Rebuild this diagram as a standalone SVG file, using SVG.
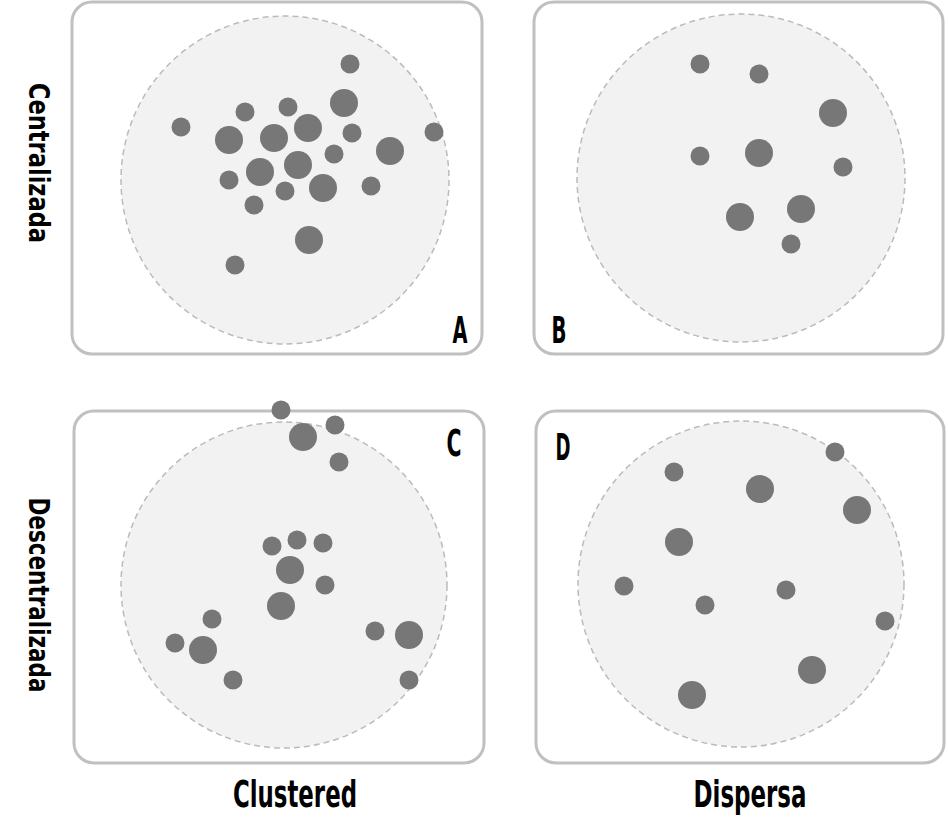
<svg xmlns="http://www.w3.org/2000/svg" width="948" height="838" viewBox="0 0 948 838">
<style>
.panel{fill:#fff;stroke:#c0c0c0;stroke-width:3}
.zone{fill:#f2f2f2;stroke:#bbb;stroke-width:1.5;stroke-dasharray:6 4}
.s{fill:#777}
.lbl{font-family:"DejaVu Sans Condensed","DejaVu Sans",sans-serif;font-weight:bold;fill:#000}
</style>
<rect width="948" height="838" fill="#fff"/>
<g id="panelA">
<rect class="panel" x="72" y="2" width="410" height="352" rx="20"/>
<circle class="zone" cx="285" cy="180" r="164"/>
<g class="s">
<circle cx="350" cy="64" r="9.5"/><circle cx="344" cy="103" r="14"/><circle cx="245" cy="112" r="9.5"/>
<circle cx="288" cy="107" r="9.5"/><circle cx="181" cy="127" r="9.5"/><circle cx="229" cy="140" r="14"/>
<circle cx="274" cy="138" r="14"/><circle cx="308" cy="128" r="14"/><circle cx="352" cy="133" r="9.5"/>
<circle cx="434" cy="132" r="9.5"/><circle cx="390" cy="151" r="14"/><circle cx="334" cy="154" r="9.5"/>
<circle cx="260" cy="172" r="14"/><circle cx="298" cy="165" r="14"/><circle cx="229" cy="180" r="9.5"/>
<circle cx="285" cy="191" r="9.5"/><circle cx="323" cy="188" r="14"/><circle cx="371" cy="186" r="9.5"/>
<circle cx="254" cy="205" r="9.5"/><circle cx="309" cy="240" r="14"/><circle cx="235" cy="265" r="9.5"/>
</g>
<text class="lbl" x="460" y="343" font-size="37" text-anchor="middle" textLength="15" lengthAdjust="spacingAndGlyphs">A</text>
</g>
<g id="panelB">
<rect class="panel" x="534" y="2" width="409" height="352" rx="20"/>
<circle class="zone" cx="741" cy="178" r="164"/>
<g class="s">
<circle cx="700" cy="64" r="9.5"/><circle cx="759" cy="74" r="9.5"/><circle cx="833" cy="113" r="14"/>
<circle cx="700" cy="156" r="9.5"/><circle cx="759" cy="153" r="14"/><circle cx="843" cy="167" r="9.5"/>
<circle cx="740" cy="217" r="14"/><circle cx="801" cy="209" r="14"/><circle cx="791" cy="244" r="9.5"/>
</g>
<text class="lbl" x="559" y="343" font-size="37" text-anchor="middle" textLength="15" lengthAdjust="spacingAndGlyphs">B</text>
</g>
<g id="panelC">
<rect class="panel" x="74" y="411" width="410" height="352" rx="20"/>
<circle class="zone" cx="284" cy="585" r="163"/>
<g class="s">
<circle cx="281" cy="410" r="9.5"/><circle cx="303" cy="437" r="14"/><circle cx="335" cy="425" r="9.5"/>
<circle cx="339" cy="462" r="9.5"/><circle cx="272" cy="546" r="9.5"/><circle cx="297" cy="540" r="9.5"/>
<circle cx="323" cy="543" r="9.5"/><circle cx="290" cy="570" r="14"/><circle cx="325" cy="585" r="9.5"/>
<circle cx="281" cy="606" r="14"/><circle cx="212" cy="619" r="9.5"/><circle cx="175" cy="643" r="9.5"/>
<circle cx="203" cy="650" r="14"/><circle cx="233" cy="680" r="9.5"/><circle cx="375" cy="631" r="9.5"/>
<circle cx="409" cy="635" r="14"/><circle cx="409" cy="680" r="9.5"/>
</g>
<text class="lbl" x="454" y="456" font-size="37" text-anchor="middle" textLength="15" lengthAdjust="spacingAndGlyphs">C</text>
</g>
<g id="panelD">
<rect class="panel" x="536" y="411" width="408" height="352" rx="20"/>
<circle class="zone" cx="741" cy="584" r="163"/>
<g class="s">
<circle cx="835" cy="452" r="9.5"/><circle cx="674" cy="472" r="9.5"/><circle cx="760" cy="489" r="14"/>
<circle cx="857" cy="510" r="14"/><circle cx="679" cy="542" r="14"/><circle cx="624" cy="586" r="9.5"/>
<circle cx="705" cy="605" r="9.5"/><circle cx="786" cy="590" r="9.5"/><circle cx="885" cy="621" r="9.5"/>
<circle cx="812" cy="670" r="14"/><circle cx="692" cy="695" r="14"/>
</g>
<text class="lbl" x="563" y="460" font-size="37" text-anchor="middle" textLength="15" lengthAdjust="spacingAndGlyphs">D</text>
</g>
<g id="axis-labels">
<text class="lbl" transform="translate(29,163) rotate(90)" font-size="29" text-anchor="middle" textLength="160" lengthAdjust="spacingAndGlyphs">Centralizada</text>
<text class="lbl" transform="translate(29,595) rotate(90)" font-size="29" text-anchor="middle" textLength="195" lengthAdjust="spacingAndGlyphs">Descentralizada</text>
<text class="lbl" x="295" y="807" font-size="38" text-anchor="middle" textLength="124" lengthAdjust="spacingAndGlyphs">Clustered</text>
<text class="lbl" x="750" y="807" font-size="38" text-anchor="middle" textLength="113" lengthAdjust="spacingAndGlyphs">Dispersa</text>
</g>
<g id="connectors"/>
</svg>
